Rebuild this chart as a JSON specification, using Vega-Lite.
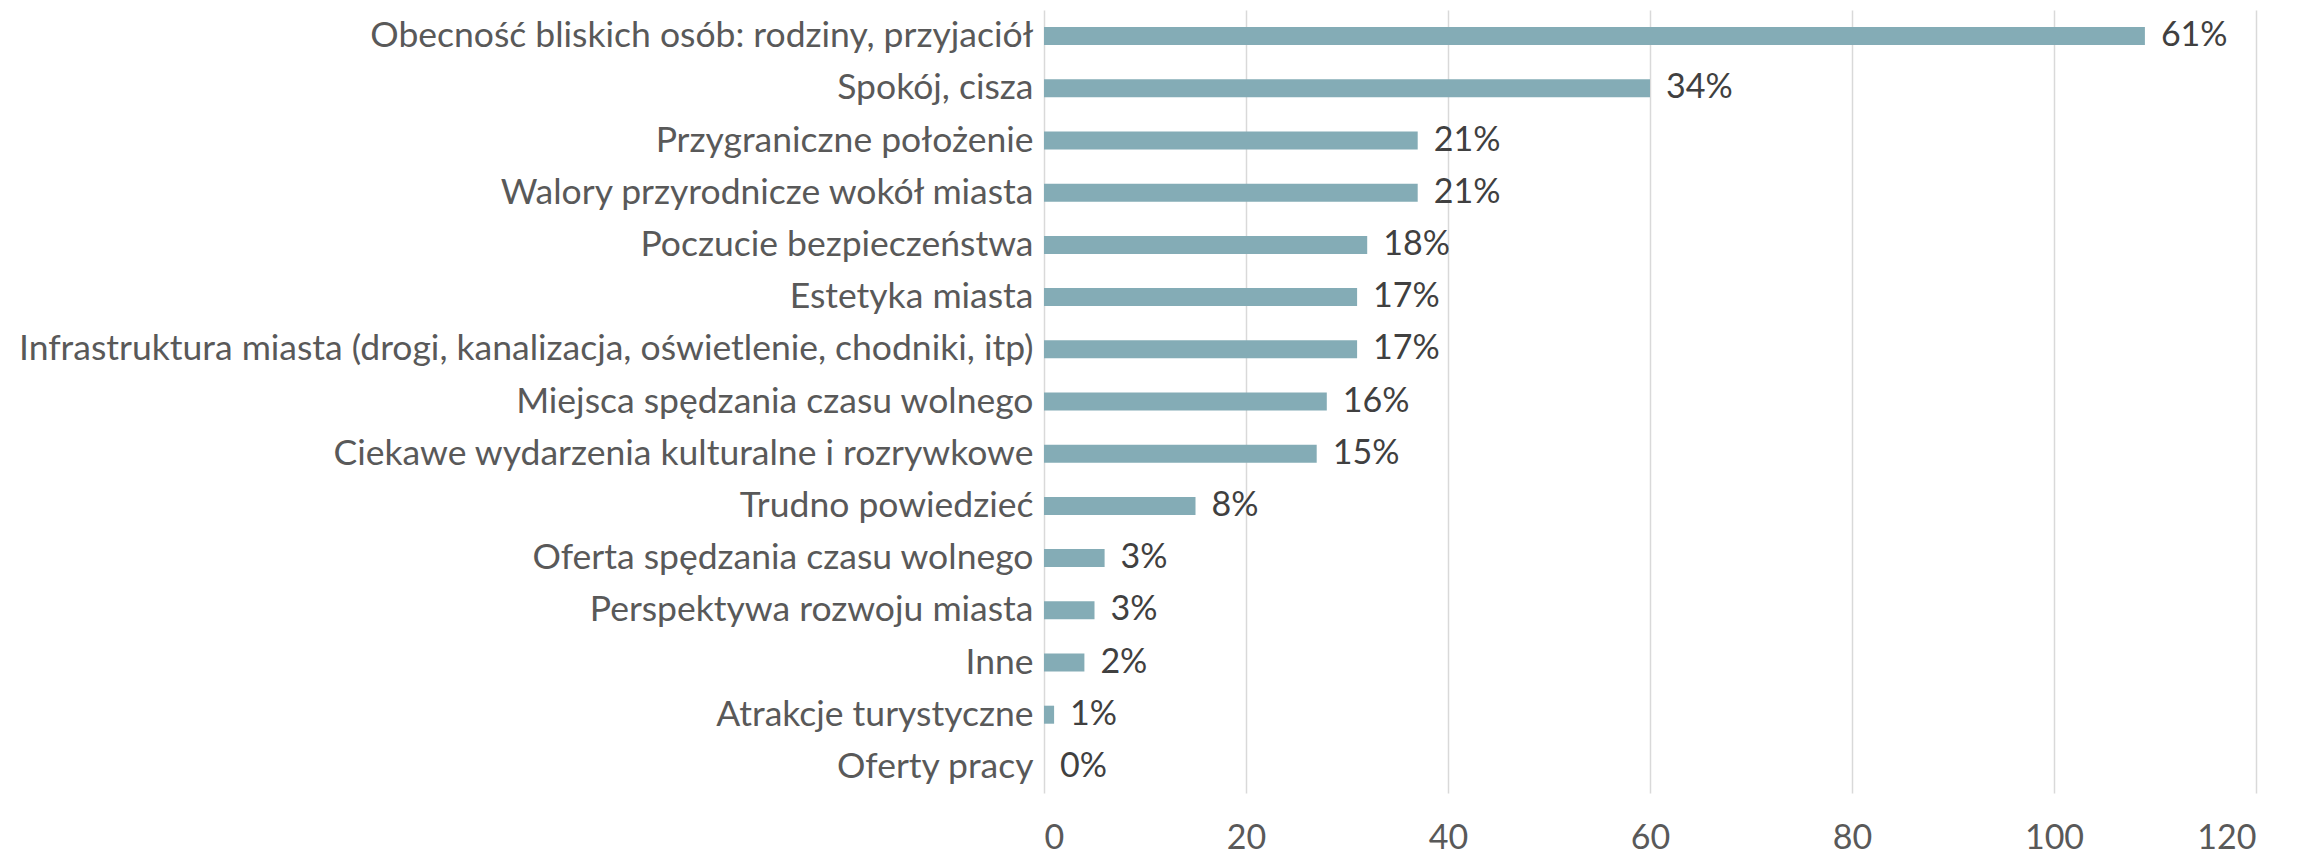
{
  "$schema": "https://vega.github.io/schema/vega-lite/v6.json",
  "width": 1212,
  "height": 783,
  "autosize": {"type": "none"},
  "padding": {"left": 1044, "top": 10, "right": 57, "bottom": 64},
  "background": "white",
  "config": {
    "view": {"stroke": null},
    "font": "Lato"
  },
  "data": {
    "values": [
      {"category": "Obecność bliskich osób: rodziny, przyjaciół", "value": 109, "label": "61%"},
      {"category": "Spokój, cisza", "value": 60, "label": "34%"},
      {"category": "Przygraniczne położenie", "value": 37, "label": "21%"},
      {"category": "Walory przyrodnicze wokół miasta", "value": 37, "label": "21%"},
      {"category": "Poczucie bezpieczeństwa", "value": 32, "label": "18%"},
      {"category": "Estetyka miasta", "value": 31, "label": "17%"},
      {"category": "Infrastruktura miasta (drogi, kanalizacja, oświetlenie, chodniki, itp)", "value": 31, "label": "17%"},
      {"category": "Miejsca spędzania czasu wolnego", "value": 28, "label": "16%"},
      {"category": "Ciekawe wydarzenia kulturalne i rozrywkowe", "value": 27, "label": "15%"},
      {"category": "Trudno powiedzieć", "value": 15, "label": "8%"},
      {"category": "Oferta spędzania czasu wolnego", "value": 6, "label": "3%"},
      {"category": "Perspektywa rozwoju miasta", "value": 5, "label": "3%"},
      {"category": "Inne", "value": 4, "label": "2%"},
      {"category": "Atrakcje turystyczne", "value": 1, "label": "1%"},
      {"category": "Oferty pracy", "value": 0, "label": "0%"}
    ]
  },
  "encoding": {
    "y": {
      "field": "category",
      "type": "nominal",
      "sort": null,
      "scale": {"paddingInner": 0.655, "paddingOuter": 0.3275},
      "axis": {
        "title": null,
        "domain": false,
        "ticks": false,
        "tickSize": 0,
        "labelPadding": 11,
        "labelFontSize": 35.5,
        "labelColor": "#595959",
        "labelFont": "Lato",
        "labelLimit": 1100,
        "grid": false
      }
    },
    "x": {
      "field": "value",
      "type": "quantitative",
      "scale": {"domain": [0, 120], "nice": false},
      "axis": {
        "title": null,
        "values": [0, 20, 40, 60, 80, 100, 120],
        "domain": false,
        "ticks": false,
        "tickSize": 0,
        "grid": true,
        "gridColor": "#d9d9d9",
        "gridWidth": 1.5,
        "labelPadding": 28,
        "labelFontSize": 34,
        "labelColor": "#595959",
        "labelFont": "Lato"
      }
    }
  },
  "layer": [
    {
      "mark": {"type": "bar", "color": "#84acb6"}
    },
    {
      "mark": {"type": "text", "align": "left", "baseline": "middle", "dx": 16, "fontSize": 34, "color": "#404040", "font": "Lato"},
      "encoding": {"text": {"field": "label"}}
    }
  ]
}
